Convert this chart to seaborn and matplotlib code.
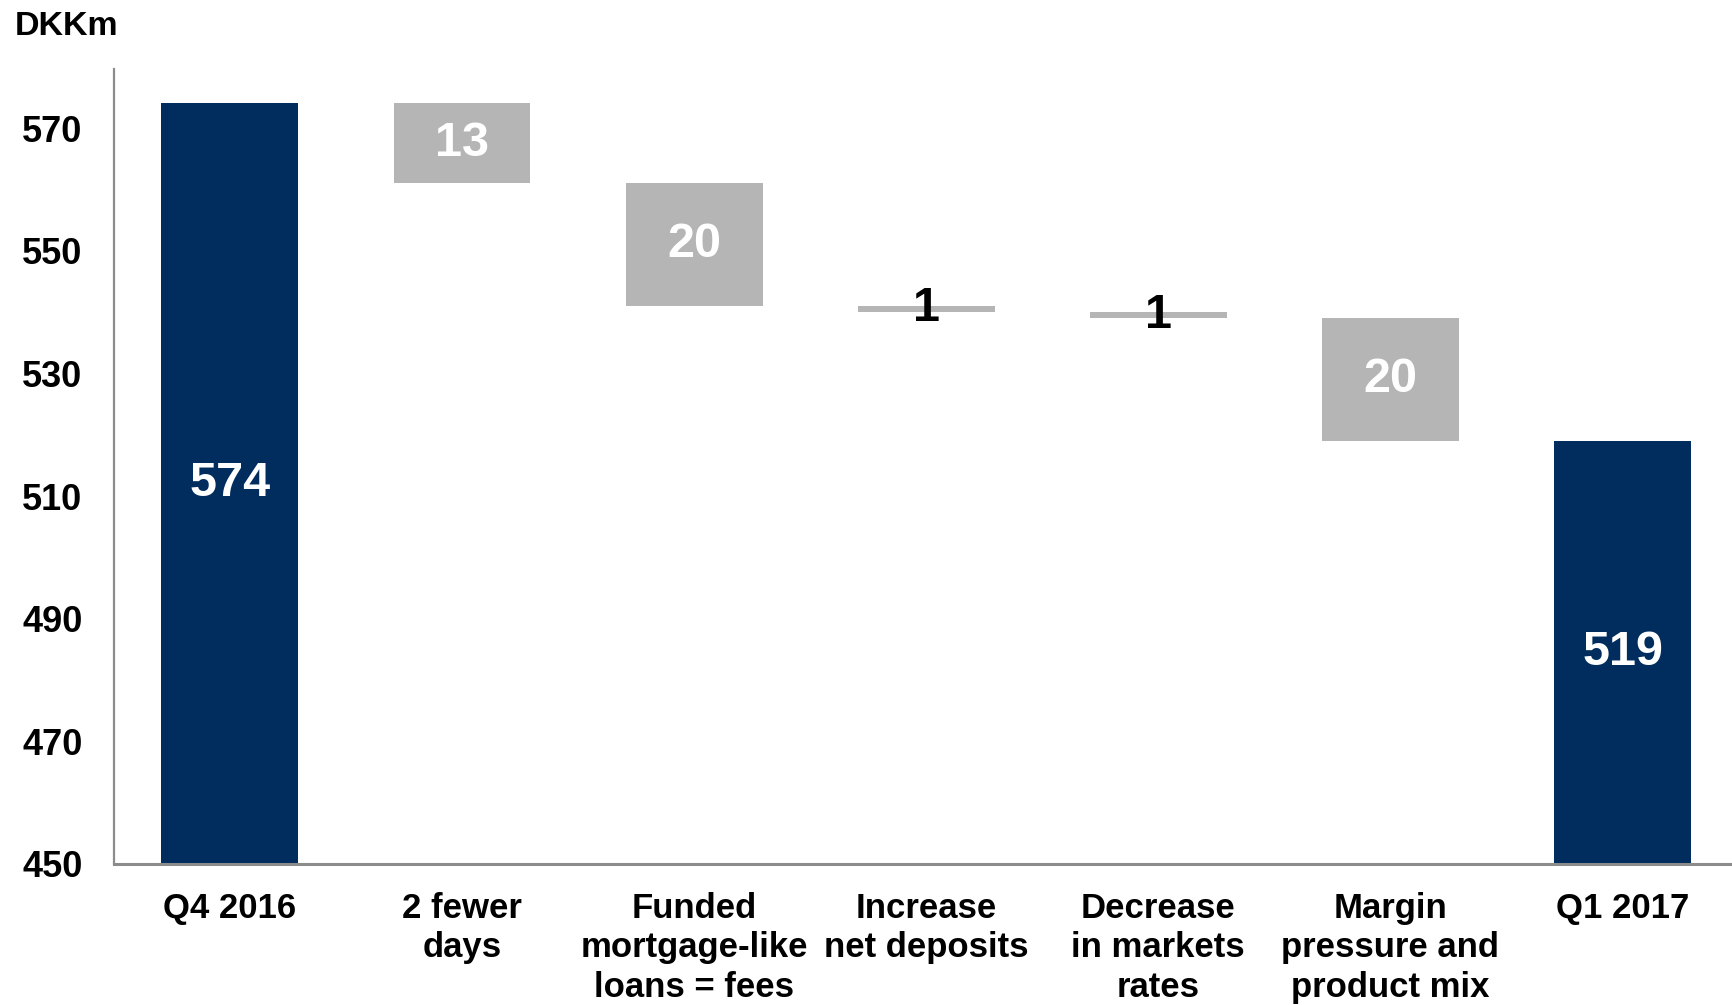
import matplotlib
matplotlib.use("Agg")
import matplotlib.pyplot as plt
import seaborn as sns
import pandas as pd
import numpy as np

# ---- data ----
categories = ["Q4 2016", "2 fewer\ndays", "Funded\nmortgage-like\nloans = fees",
              "Increase\nnet deposits", "Decrease\nin markets\nrates",
              "Margin\npressure and\nproduct mix", "Q1 2017"]
changes = [574, -13, -20, -1, -1, -20, 519]
is_total = [True, False, False, False, False, False, True]
value_labels = ["574", "13", "20", "1", "1", "20", "519"]
label_colors = ["white", "white", "white", "black", "black", "white", "white"]
y_ticks = [450, 470, 490, 510, 530, 550, 570]

NAVY = "#002d5e"
GREY = "#b5b5b5"
AXC = "#8c8c8c"

# waterfall geometry from data
bottoms, tops = [], []
running = 0
for v, t in zip(changes, is_total):
    if t:
        bottoms.append(0); tops.append(v); running = v
    else:
        new = running + v
        bottoms.append(min(running, new)); tops.append(max(running, new)); running = new

df = pd.DataFrame({"cat": categories, "top": tops, "bottom": bottoms,
                   "kind": ["total" if t else "delta" for t in is_total]})

sns.set_style("white")
plt.rcParams["font.family"] = ["Liberation Sans", "DejaVu Sans"]
plt.rcParams["font.weight"] = "bold"
plt.rcParams["text.color"] = "black"
plt.rcParams["xtick.color"] = "black"
plt.rcParams["ytick.color"] = "black"

fig = plt.figure(figsize=(17.33, 10.05), dpi=100)
ax = fig.add_axes([0.0657, 0.1403, 0.9375, 0.7915])

sns.barplot(data=df, x="cat", y="top", hue="kind",
            palette={"total": NAVY, "delta": GREY}, dodge=False,
            width=0.59, legend=False, ax=ax, saturation=1, linewidth=0)

# turn bars into floating waterfall segments
bars = [p for p in ax.patches]
bars.sort(key=lambda p: p.get_x())
for p, b, t in zip(bars, df["bottom"], df["top"]):
    p.set_y(b)
    p.set_height(t - b)

# value labels
for i, (b, t, lab, c) in enumerate(zip(df["bottom"], df["top"], value_labels, label_colors)):
    lo = max(b, y_ticks[0])
    ax.text(i, (lo + t) / 2, lab, ha="center", va="center", color=c,
            fontsize=35, fontweight="bold", zorder=5)

ax.set_ylim(450, 579.7)
ax.set_xlim(-0.5, 6.5)
ax.set_yticks(y_ticks)
ax.set_yticklabels([str(v) for v in y_ticks], fontsize=26, fontweight="bold", color="black")
ax.set_xticks(range(len(categories)))
ax.set_xticklabels(categories, fontsize=25, fontweight="bold", linespacing=1.25, color="black")
ax.set_xticks(np.arange(-0.5, 7.0, 1.0), minor=True)
ax.tick_params(axis="x", which="major", length=0, pad=20)
ax.tick_params(axis="x", which="minor", length=8, width=1, color=AXC, direction="out")
ax.tick_params(axis="y", which="major", length=6.5, width=1.2, color=AXC, pad=16, direction="out")
ax.set_xlabel("")
ax.set_ylabel("")

for s in ["top", "right"]:
    ax.spines[s].set_visible(False)
ax.spines["left"].set_color(AXC)
ax.spines["left"].set_linewidth(1.6)
ax.spines["bottom"].set_color(AXC)
ax.spines["bottom"].set_linewidth(2.2)

fig.text(15 / 1733, 1 - 35 / 1005, "DKKm", fontsize=24.5, fontweight="bold",
         ha="left", va="baseline", color="black")

fig.savefig("out.png", dpi=100)
